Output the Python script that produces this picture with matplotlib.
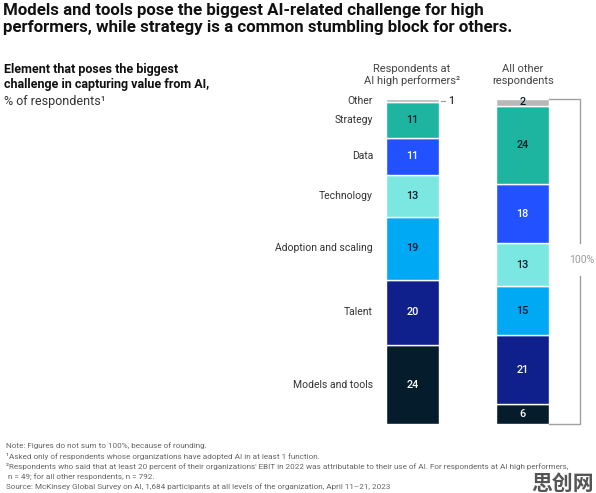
import numpy as np
import matplotlib
matplotlib.use("Agg")
import matplotlib.pyplot as plt

plt.rcParams['font.family'] = ['Roboto', 'DejaVu Sans']

# data, bottom to top
categories = ["Models and tools", "Talent", "Adoption and scaling", "Technology",
              "Data", "Strategy", "Other"]
high_perf = [24, 20, 19, 13, 11, 11, 1]
all_other = [6, 21, 15, 13, 18, 24, 2]
groups = ["Respondents at\nAI high performers\u00b2", "All other\nrespondents"]

colors = ["#051c2c", "#0f1f8c", "#00a9f4", "#7ae8e0", "#2251ff", "#1db5a0", "#b8b8b8"]
text_col = ["white", "white", "#051c2c", "#051c2c", "white", "#051c2c", "#051c2c"]

W, H = 596, 493
fig = plt.figure(figsize=(W / 100, H / 100), dpi=100)

# bars axes: bar 1 spans px 386-439, bar 2 px 496-549, y 99-424 px
ax = fig.add_axes([386 / W, 1 - 424 / H, 163 / W, 325 / H])
ax.set_xlim(-0.24, 1.24)
ax.set_ylim(0, 99)
ax.axis("off")

width = 0.48
for xi, vals in enumerate([high_perf, all_other]):
    bottom = 0
    for i, v in enumerate(vals):
        ax.bar(xi, v, width=width, bottom=bottom, color=colors[i],
               edgecolor="white", linewidth=1.0)
        mid = bottom + v / 2
        if not (xi == 0 and categories[i] == "Other"):
            ax.text(xi, mid, str(v), ha="center", va="center", fontsize=7.8,
                    color=text_col[i], fontweight="medium")
        if xi == 0:
            ax.text(-0.358, mid, categories[i], ha="right", va="center",
                    fontsize=7.5, color="#333333", clip_on=False)
        bottom += v

# small leader for the "1" label
other_mid = sum(high_perf[:-1]) + high_perf[-1] / 2
ax.plot([0.262, 0.30], [other_mid, other_mid], color="#999999", lw=0.8, clip_on=False)
ax.text(0.322, other_mid, str(high_perf[-1]), ha="left", va="center",
        fontsize=7.8, color="#333333", fontweight="medium")

# bracket for 100%
top = sum(all_other)
bx = 1.524
ax.plot([1.24, bx, bx], [top, top, 55], color="#a0a0a0", lw=1.0, clip_on=False)
ax.plot([bx, bx, 1.24], [45, 0, 0], color="#a0a0a0", lw=1.0, clip_on=False)
ax.text(bx + 0.01, 50, "100%", ha="center", va="center", fontsize=7.5,
        color="#999999", clip_on=False)

# column headers
fig.text(412 / W, 1 - 75 / H, groups[0], ha="center", va="center", fontsize=8,
         color="#444444", linespacing=1.15)
fig.text(523 / W, 1 - 75 / H, groups[1], ha="center", va="center", fontsize=8,
         color="#444444", linespacing=1.15)

# titles
fig.text(3 / W, 1 - 3 / H,
         "Models and tools pose the biggest AI-related challenge for high\n"
         "performers, while strategy is a common stumbling block for others.",
         ha="left", va="top", fontsize=12.2, fontweight="bold", color="#111111",
         linespacing=1.2)
fig.text(4 / W, 1 - 63 / H,
         "Element that poses the biggest\nchallenge in capturing value from AI,",
         ha="left", va="top", fontsize=9, fontweight="bold", color="#111111",
         linespacing=1.2)
fig.text(4 / W, 1 - 95 / H, "% of respondents\u00b9", ha="left", va="top",
         fontsize=9, color="#333333")

# footnotes
notes = [
    "Note: Figures do not sum to 100%, because of rounding.",
    "\u00b9Asked only of respondents whose organizations have adopted AI in at least 1 function.",
    "\u00b2Respondents who said that at least 20 percent of their organizations' EBIT in 2022 was "
    "attributable to their use of AI. For respondents at AI high performers,",
    " n = 49; for all other respondents, n = 792.",
    "Source: McKinsey Global Survey on AI, 1,684 participants at all levels of the organization, "
    "April 11\u201321, 2023",
]
y0 = 446
for k, line in enumerate(notes):
    fig.text(6 / W, 1 - (y0 + k * 10.2) / H, line, ha="left", va="center",
             fontsize=5.9, color="#666666")

# watermark
fig.text(594 / W, 1 - 483 / H, "思创网", ha="right", va="center", fontsize=15,
         fontweight="bold", color="#555555",
         family=["Noto Sans CJK SC", "DejaVu Sans"])

fig.savefig("out.png", dpi=100)
